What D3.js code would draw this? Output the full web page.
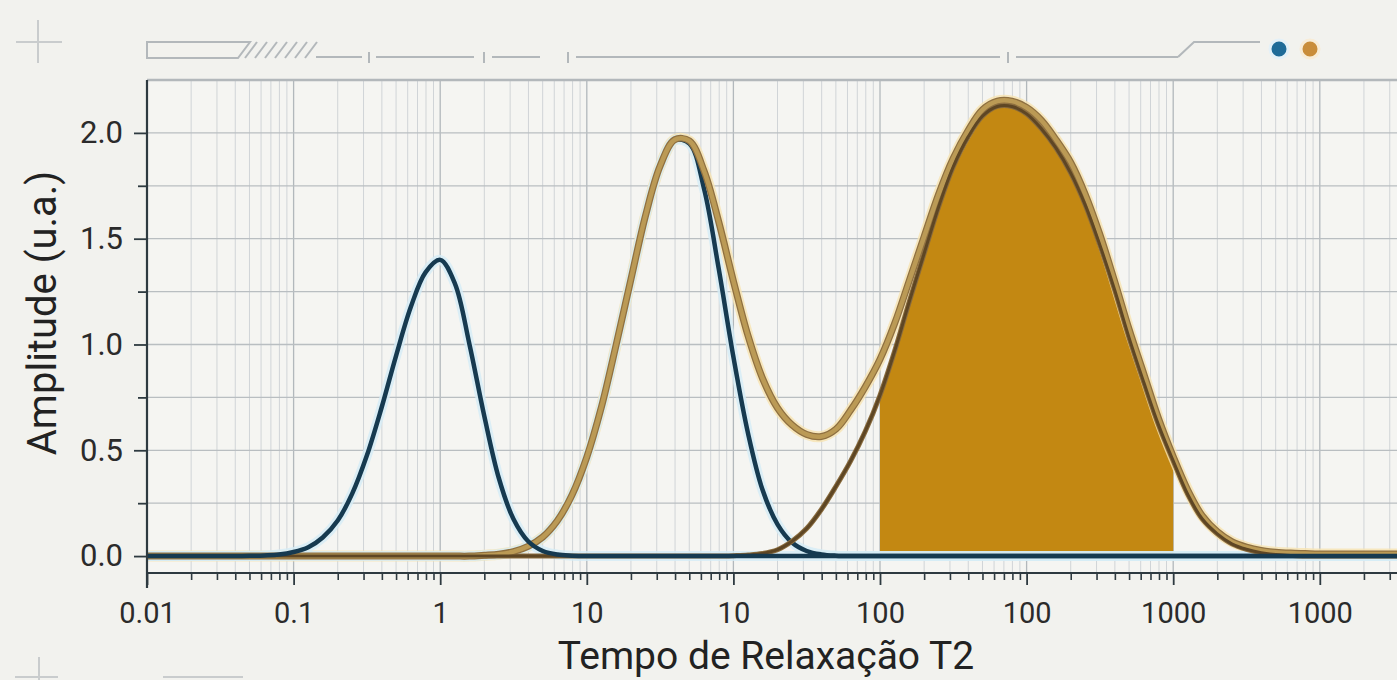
<!DOCTYPE html>
<html>
<head>
<meta charset="utf-8">
<script src="https://cdn.jsdelivr.net/npm/d3@7"></script>
<style>
html,body{margin:0;padding:0;background:#f2f2ee;overflow:hidden;}
svg{display:block;font-family:Roboto,"Noto Sans",sans-serif;}
</style>
</head>
<body>
<svg id="chart" width="1397" height="680"></svg>
<script>
// ---- data ----
const t2 = [0.01, 0.0316, 0.0398, 0.0501, 0.0631, 0.0794, 0.1, 0.126, 0.158, 0.2, 0.251, 0.316, 0.398, 0.501, 0.631, 0.794,
  1, 1.26, 1.58, 2, 2.51, 3.16, 3.98, 5.01, 6.31, 7.94,
  10, 12.6, 15.8, 20, 25.1, 31.6, 39.8, 50.1, 63.1, 79.4,
  100, 126, 158, 200, 251, 316, 398, 501, 631, 794,
  1000, 1260, 1580, 2000, 2510, 3160, 3980, 5010, 6310, 7940,
  10000, 12600, 15800, 20000, 25100, 31600, 39800, 50100, 63100, 79400,
  100000, 126000, 158000, 200000, 251000, 316000, 398000, 501000, 631000, 794000,
  1000000, 4000000];

// navy component 1 (short T2) + baseline
const compA = [0, 0, 0, 0.001, 0.003, 0.007, 0.019, 0.042, 0.088, 0.168, 0.295, 0.475, 0.701, 0.949, 1.178, 1.341,
  1.40, 1.288, 1.004, 0.661, 0.369, 0.175, 0.070, 0.024, 0.007, 0.002,
  0, 0, 0, 0, 0, 0, 0, 0, 0, 0,
  0, 0, 0, 0, 0, 0, 0, 0, 0, 0,
  0, 0, 0, 0, 0, 0, 0, 0, 0, 0,
  0, 0, 0, 0, 0, 0, 0, 0, 0, 0,
  0, 0, 0, 0, 0, 0, 0, 0, 0, 0,
  0, 0];

// navy component 2 (middle T2)
const compB = [0, 0, 0, 0, 0, 0, 0, 0, 0, 0, 0, 0, 0, 0, 0, 0,
  0, 0, 0, 0.004, 0.009, 0.021, 0.046, 0.090, 0.168, 0.290,
  0.468, 0.706, 0.994, 1.308, 1.607, 1.843, 1.965, 1.950, 1.735, 1.358,
  0.941, 0.578, 0.313, 0.150, 0.064, 0.024, 0.008, 0.002, 0, 0,
  0, 0, 0, 0, 0, 0, 0, 0, 0, 0,
  0, 0, 0, 0, 0, 0, 0, 0, 0, 0,
  0, 0, 0, 0, 0, 0, 0, 0, 0, 0,
  0, 0];

// brown component 3 (long T2)
const compC = [0, 0, 0, 0, 0, 0, 0, 0, 0, 0, 0, 0, 0, 0, 0, 0,
  0, 0, 0, 0, 0, 0, 0, 0, 0, 0,
  0, 0, 0, 0, 0, 0, 0, 0, 0, 0,
  0.002, 0.005, 0.012, 0.03, 0.07, 0.13, 0.22, 0.33, 0.45, 0.59,
  0.76, 0.97, 1.20, 1.43, 1.65, 1.84, 1.98, 2.08, 2.125, 2.125,
  2.09, 2.02, 1.93, 1.81, 1.66, 1.47, 1.26, 1.03, 0.82, 0.62,
  0.45, 0.29, 0.175, 0.105, 0.058, 0.032, 0.016, 0.007, 0.003, 0,
  0, 0];

// total distribution (tan)
const total = [0, 0, 0, 0, 0, 0, 0, 0, 0, 0, 0, 0, 0, 0, 0, 0,
  0, 0, 0, 0.004, 0.009, 0.021, 0.046, 0.090, 0.168, 0.290,
  0.468, 0.706, 0.994, 1.308, 1.607, 1.843, 1.968, 1.962, 1.82, 1.58,
  1.30, 1.04, 0.84, 0.70, 0.62, 0.575, 0.565, 0.60, 0.69, 0.80,
  0.93, 1.10, 1.30, 1.51, 1.71, 1.88, 2.01, 2.11, 2.15, 2.15,
  2.12, 2.06, 1.97, 1.86, 1.71, 1.52, 1.30, 1.07, 0.86, 0.65,
  0.47, 0.31, 0.19, 0.115, 0.068, 0.042, 0.026, 0.018, 0.014, 0.012,
  0.01, 0.01];

const xTickValues = [0.01, 0.1, 1, 10, 100, 1000, 10000, 100000, 1000000];
const xTickLabels = ["0.01", "0.1", "1", "10", "10", "100", "100", "1000", "1000"];
const yTickValues = [0, 0.5, 1, 1.5, 2];
const shadeRange = [1000, 100000];
const xTitle = "Tempo de Relaxação T2";
const yTitle = "Amplitude (u.a.)";

(function () {
// ---- layout ----
const W = 1397, H = 680;
const pL = 147, pT = 80, pB = 573, pR = 1397;
const svg = d3.select("#chart");

const x = d3.scaleLog().domain([0.01, 1e7]).range([pL, pL + 9 * 146.6]);
const y = d3.scaleLinear().domain([-0.08, 2.25]).range([pB, pT]);

svg.append("rect").attr("width", W).attr("height", H).attr("fill", "#f2f2ee");
svg.append("rect").attr("x", pL).attr("y", pT).attr("width", pR - pL).attr("height", pB - pT).attr("fill", "#f5f5f2");

// grid
const gGrid = svg.append("g");
const allTicks = x.ticks(60).filter(v => v >= 0.01 && v <= 1e7);
const isDecade = v => Math.abs(Math.log10(v) - Math.round(Math.log10(v))) < 1e-6;
gGrid.selectAll("line.minor").data(allTicks.filter(v => !isDecade(v))).join("line")
  .attr("x1", d => x(d)).attr("x2", d => x(d)).attr("y1", pT).attr("y2", pB)
  .attr("stroke", "#d0d4d7").attr("stroke-width", 1);
gGrid.selectAll("line.major").data(allTicks.filter(isDecade)).join("line")
  .attr("x1", d => x(d)).attr("x2", d => x(d)).attr("y1", pT).attr("y2", pB)
  .attr("stroke", "#b2b8bc").attr("stroke-width", 1.3);
const yGrid = d3.range(0, 2.01, 0.25);
gGrid.selectAll("line.h").data(yGrid).join("line")
  .attr("x1", pL).attr("x2", pR).attr("y1", d => y(d)).attr("y2", d => y(d))
  .attr("stroke", "#b9bec1").attr("stroke-width", 1.3);
svg.append("line").attr("x1", pL).attr("x2", pR).attr("y1", pT).attr("y2", pT)
  .attr("stroke", "#b3b8bb").attr("stroke-width", 2.5);

// data rows
const rows = t2.map((t, i) => ({t, a: compA[i], b: compB[i], c: compC[i], s: total[i]}));
const curve = d3.curveCatmullRom.alpha(0.5);
const lineOf = key => d3.line().x(d => x(d.t)).y(d => y(d[key])).curve(curve);

svg.append("clipPath").attr("id", "plotclip").append("rect")
  .attr("x", pL).attr("y", pT - 10).attr("width", pR - pL).attr("height", pB - pT + 10);
const gPlot = svg.append("g").attr("clip-path", "url(#plotclip)");

// shaded area under component 3
const shadeRows = rows.filter(d => d.t >= shadeRange[0] && d.t <= shadeRange[1]);
gPlot.append("path").datum(shadeRows)
  .attr("d", d3.area().x(d => x(d.t)).y0(y(0)).y1(d => y(d.c)).curve(curve))
  .attr("fill", "#c38812");

// halos
gPlot.append("path").datum(rows).attr("d", lineOf("s")).attr("fill", "none")
  .attr("stroke", "#f7e3b0").attr("stroke-width", 11).attr("stroke-linejoin", "round").attr("opacity", 0.8);
gPlot.append("path").datum(rows).attr("d", lineOf("b")).attr("fill", "none")
  .attr("stroke", "#d5ecf6").attr("stroke-width", 10).attr("opacity", 0.8);
gPlot.append("path").datum(rows).attr("d", lineOf("a")).attr("fill", "none")
  .attr("stroke", "#d5ecf6").attr("stroke-width", 10).attr("opacity", 0.8);

// component B (navy), below the total
gPlot.append("path").datum(rows).attr("d", lineOf("b")).attr("fill", "none")
  .attr("stroke", "#163a50").attr("stroke-width", 4.5).attr("stroke-linejoin", "round");
// component C (brown) outer
gPlot.append("path").datum(rows).attr("d", lineOf("c")).attr("fill", "none")
  .attr("stroke", "#8a6c3e").attr("stroke-width", 5).attr("stroke-linejoin", "round");
// total (tan)
gPlot.append("path").datum(rows).attr("d", lineOf("s")).attr("fill", "none")
  .attr("stroke", "#8f7040").attr("stroke-width", 7).attr("stroke-linejoin", "round");
gPlot.append("path").datum(rows).attr("d", lineOf("s")).attr("fill", "none")
  .attr("stroke", "#bb9a55").attr("stroke-width", 4.5).attr("stroke-linejoin", "round");
// component C (core)
gPlot.append("path").datum(rows).attr("d", lineOf("c")).attr("fill", "none")
  .attr("stroke", "#5e4624").attr("stroke-width", 3).attr("stroke-linejoin", "round");
// component A (navy, with baseline)
gPlot.append("path").datum(rows).attr("d", lineOf("a")).attr("fill", "none")
  .attr("stroke", "#163a50").attr("stroke-width", 4.5).attr("stroke-linejoin", "round");

// axes
const axisColor = "#2e3a40";
const gx = svg.append("g").attr("transform", `translate(0,${pB})`);
gx.call(d3.axisBottom(x).tickValues(allTicks.filter(v => !isDecade(v) && v < 4e6)).tickSize(7).tickFormat(""));
gx.selectAll(".tick line").attr("stroke", axisColor).attr("stroke-width", 1.6);
const gx2 = svg.append("g").attr("transform", `translate(0,${pB})`);
gx2.call(d3.axisBottom(x).tickValues(xTickValues).tickSize(12).tickSizeOuter(0)
  .tickFormat((d, i) => xTickLabels[i]));
[gx, gx2].forEach(g => g.select(".domain").remove());
gx2.selectAll(".tick line").attr("stroke", axisColor).attr("stroke-width", 1.8);
gx2.selectAll(".tick text").attr("fill", "#2b2b2b").attr("font-size", 29).attr("dy", "1.2em")
  .attr("font-family", "Roboto, sans-serif");
svg.append("line").attr("x1", pL).attr("x2", pR).attr("y1", pB).attr("y2", pB)
  .attr("stroke", axisColor).attr("stroke-width", 2.2);

const gy = svg.append("g").attr("transform", `translate(${pL},0)`);
gy.call(d3.axisLeft(y).tickValues(d3.range(0.25, 2.01, 0.5)).tickSize(9).tickFormat(""));
const gy2 = svg.append("g").attr("transform", `translate(${pL},0)`);
gy2.call(d3.axisLeft(y).tickValues(yTickValues).tickSize(13).tickFormat(d3.format(".1f")));
[gy, gy2].forEach(g => {
  g.select(".domain").remove();
  g.selectAll(".tick line").attr("stroke", axisColor).attr("stroke-width", 1.8);
});
gy2.selectAll(".tick text").attr("fill", "#2b2b2b").attr("font-size", 31).attr("x", -24)
  .attr("font-family", "Roboto, sans-serif");
svg.append("line").attr("x1", pL).attr("x2", pL).attr("y1", pT).attr("y2", pB + 15)
  .attr("stroke", axisColor).attr("stroke-width", 2.2);

// titles
svg.append("text").attr("x", 766).attr("y", 669).attr("text-anchor", "middle")
  .attr("font-size", 39).attr("fill", "#222").text(xTitle);
svg.append("text").attr("transform", "translate(56,313) rotate(-90)").attr("text-anchor", "middle")
  .attr("font-size", 40).attr("fill", "#222").text(yTitle);

// decorations
const deco = svg.append("g").attr("stroke", "#b3b8bb").attr("stroke-width", 2).attr("fill", "none");
deco.append("path").attr("d", "M147,42 L250,42 L238,58 L147,58 Z");
for (let i = 0; i < 7; i++) {
  deco.append("path").attr("d", `M${245 + i * 10},58 L${257 + i * 10},42`);
}
[[316, 362], [376, 474], [492, 540], [576, 1000], [1016, 1178]].forEach(s =>
  deco.append("path").attr("d", `M${s[0]},57 L${s[1]},57`));
[369, 484, 568, 1008].forEach(t => deco.append("path").attr("d", `M${t},52 L${t},63`));
deco.append("path").attr("d", "M1178,57 L1194,42 L1260,42");
const crossC = "#c9cccd";
svg.append("path").attr("d", "M16,42 L62,42 M38,20 L38,63").attr("stroke", crossC).attr("stroke-width", 2);
svg.append("path").attr("d", "M15,677 L58,677 M39,657 L39,680 M163,677 L243,677").attr("stroke", crossC).attr("stroke-width", 2);
svg.append("circle").attr("cx", 1279).attr("cy", 49).attr("r", 9).attr("fill", "#1f6b98")
  .attr("stroke", "#e4f1f8").attr("stroke-width", 3);
svg.append("circle").attr("cx", 1310).attr("cy", 49).attr("r", 9).attr("fill", "#c98d3a")
  .attr("stroke", "#f8ecd6").attr("stroke-width", 3);
})();
</script>
</body>
</html>
